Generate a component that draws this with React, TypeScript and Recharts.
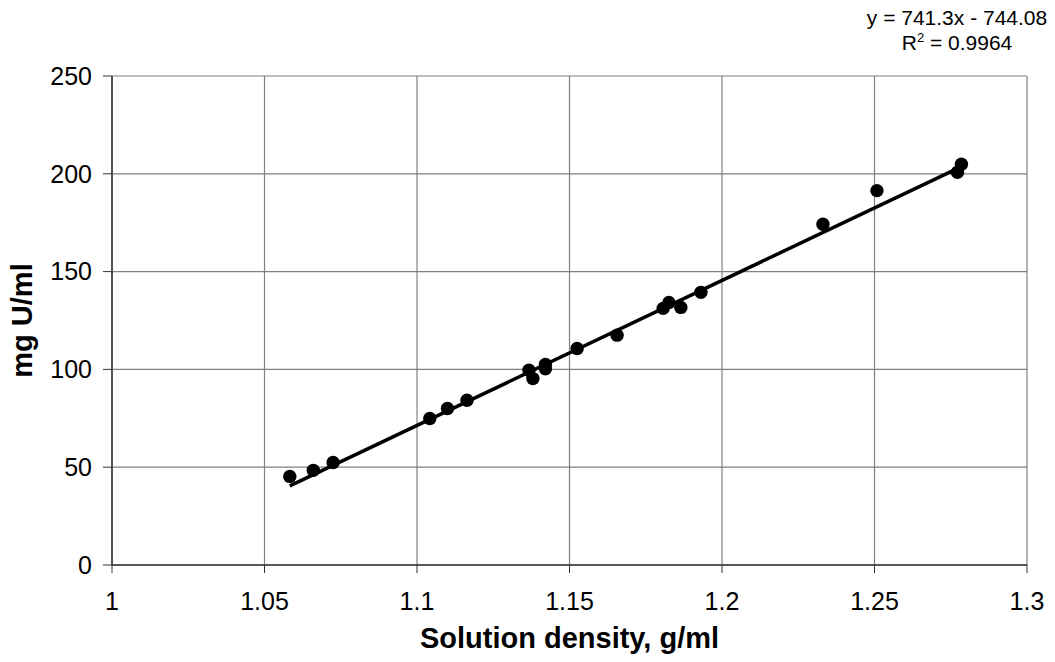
import {
  ScatterChart, Scatter, XAxis, YAxis, CartesianGrid, ReferenceLine, Label,
} from 'recharts';

// solution density (g/ml) vs uranium concentration (mg U/ml)
const density = [
  1.0583, 1.066, 1.0725, 1.1042, 1.110, 1.1164, 1.1367, 1.138, 1.1421, 1.1421,
  1.1525, 1.1656, 1.1807, 1.1826, 1.1865, 1.1931, 1.2331, 1.2508, 1.2772, 1.2785,
];
const mgU = [
  45.3, 48.4, 52.4, 74.9, 80.0, 84.2, 99.6, 95.3, 102.5, 100.3,
  110.7, 117.5, 131.2, 134.2, 131.7, 139.4, 174.2, 191.4, 200.8, 204.9,
];
const xTicks = [1, 1.05, 1.1, 1.15, 1.2, 1.25, 1.3];
const yTicks = [0, 50, 100, 150, 200, 250];
const slope = 741.3;
const intercept = -744.08;
const rSquared = 0.9964;

const points = density.map((x, i) => ({ x, y: mgU[i] }));
const xMin = Math.min(...density);
const xMax = Math.max(...density);
const trend = [
  { x: xMin, y: slope * xMin + intercept },
  { x: xMax, y: slope * xMax + intercept },
];

const FONT = '"Liberation Sans", Arial, sans-serif';

const Dot = (props: any) => <circle cx={props.cx} cy={props.cy} r={6.7} fill="#000" />;

const YTitle = (props: any) => {
  const vb = props.viewBox;
  const cx = 22;
  const cy = vb.y + vb.height / 2;
  return (
    <text
      x={cx}
      y={cy}
      transform={`rotate(-90 ${cx} ${cy})`}
      textAnchor="middle"
      dominantBaseline="central"
      fontFamily={FONT}
      fontWeight="bold"
      fontSize={29}
      fill="#000"
    >
      mg U/ml
    </text>
  );
};

export default function App() {
  return (
    <div style={{ position: 'absolute', left: 0, top: 0, width: 1055, height: 662, background: '#fff' }}>
      <div
        style={{
          position: 'absolute', left: 857, width: 200, top: 5, fontFamily: FONT, fontSize: 21,
          textAlign: 'center', lineHeight: '25px', color: '#000', whiteSpace: 'nowrap',
        }}
      >
        <div>y = {slope}x - {Math.abs(intercept)}</div>
        <div>
          R<span style={{ fontSize: 13, position: 'relative', top: -8 }}>2</span> = {rSquared}
        </div>
      </div>
      <ScatterChart
        width={1055}
        height={662}
        margin={{ top: 76, right: 28, bottom: 14, left: 0 }}
        style={{ fontFamily: FONT }}
      >
        <CartesianGrid stroke="#808080" strokeWidth={1.2} />
        <XAxis
          type="number"
          dataKey="x"
          domain={[1, 1.3]}
          ticks={xTicks}
          allowDataOverflow
          height={83}
          tickSize={8}
          tickMargin={19}
          tick={{ fill: '#000', fontSize: 25 }}
          axisLine={{ stroke: '#333', strokeWidth: 1.5 }}
          tickLine={{ stroke: '#333' }}
        >
          <Label
            value="Solution density, g/ml"
            position="insideBottom"
            offset={0}
            fontSize={29}
            fontWeight="bold"
            fill="#000"
          />
        </XAxis>
        <YAxis
          type="number"
          dataKey="y"
          domain={[0, 250]}
          ticks={yTicks}
          width={112}
          tickSize={9}
          tickMargin={11}
          tick={{ fill: '#000', fontSize: 25 }}
          axisLine={{ stroke: '#333', strokeWidth: 1.5 }}
          tickLine={{ stroke: '#333' }}
        >
          <Label content={<YTitle />} />
        </YAxis>
        <ReferenceLine
          segment={trend}
          stroke="#000"
          strokeWidth={3.5}
          ifOverflow="visible"
        />
        <Scatter data={points} shape={<Dot />} isAnimationActive={false} />
      </ScatterChart>
    </div>
  );
}
